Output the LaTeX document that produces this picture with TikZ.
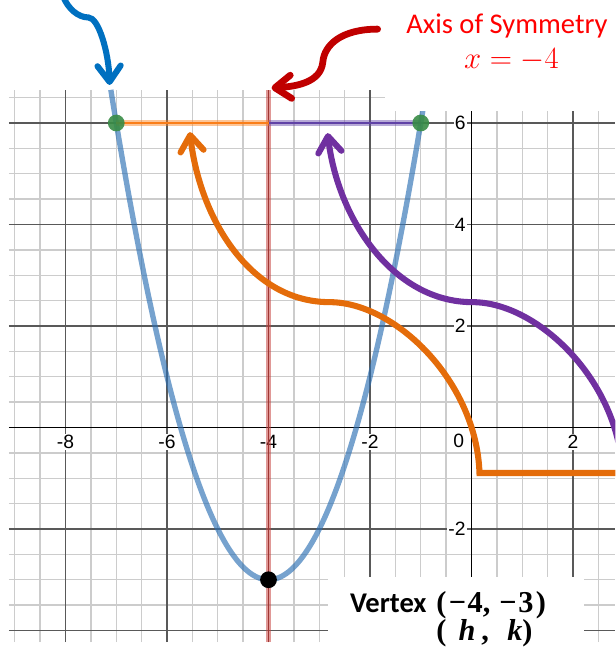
\documentclass[tikz,border=0pt]{standalone}
\usepackage{amsmath}
\usepackage{fontspec}
\setmainfont{Carlito}
\newfontfamily\gridfont{Liberation Sans}
\newfontfamily\pairfont{Liberation Serif}
\usetikzlibrary{arrows.meta, positioning}
\definecolor{curveblue}{HTML}{2D70B3}
\definecolor{symred}{HTML}{C74440}
\definecolor{segorange}{HTML}{FA7E19}
\definecolor{segpurple}{HTML}{6042A6}
\definecolor{ptgreen}{HTML}{388C46}
\definecolor{noteblue}{HTML}{0070C0}
\definecolor{notered}{HTML}{C00000}
\definecolor{noteorange}{HTML}{E46C0A}
\definecolor{notepurple}{HTML}{7030A0}
\definecolor{titlered}{HTML}{FF0000}

\begin{document}
\begin{tikzpicture}[
    minor/.style={black!20, line width=0.75pt},
    major/.style={black!65, line width=0.7pt},
    axisline/.style={black, line width=0.9pt},
    ticklbl/.style={font=\gridfont\fontsize{10.8}{12}\selectfont, fill=white, inner sep=0.6pt},
    ptdot/.style={circle, inner sep=0pt, minimum size=0.33cm},
    callout/.style={line width=3.4pt, line cap=round,
      -{Straight Barb[length=9pt, width=13pt, round]}},
    bigtext/.style={font=\fontsize{16}{19}\selectfont, inner sep=0pt},
    pairtext/.style={font=\pairfont\bfseries\fontsize{17}{20}\selectfont, inner sep=0pt}
  ]
  \useasboundingbox (-9.291,-4.463) rectangle (2.835,8.424);
  \clip (-9.291,-4.463) rectangle (2.835,8.424);

  \foreach \gx in {-9,-8.5,...,2.5}
    \draw[minor] (\gx,-4.227) -- (\gx,6.65);
  \foreach \gy in {-4,-3.5,...,6.5}
    \draw[minor] (-9.114,\gy) -- (2.835,\gy);
  \foreach \gx in {-8,-6,-4,-2,2}
    \draw[major] (\gx,-4.227) -- (\gx,6.65);
  \foreach \gy in {-4,-2,2,4,6}
    \draw[major] (-9.114,\gy) -- (2.835,\gy);
  \draw[axisline] (-9.114,0) -- (2.835,0);
  \draw[axisline] (0,-4.227) -- (0,6.65);

  \foreach \v in {-8,-6,-4,-2,2}
    \node[ticklbl] (xt\v) at (\v,-0.29) {\v};
  \node[ticklbl, anchor=east] (origin) at (-0.12,-0.27) {0};
  \foreach \v in {-2,2,4,6}
    \node[ticklbl, anchor=east] (yt\v) at (-0.09,\v) {\v};

  \draw[symred, line width=3.3pt, opacity=0.55] (-4,-4.227) -- (-4,6.65);
  \draw[symred!80!black, line width=0.9pt] (-4,-4.227) -- (-4,6.65);
  \draw[curveblue, opacity=0.65, line width=3pt, domain=-7.107:-0.958,
        samples=120, smooth] plot (\x, {(\x+4)^2-3});

  \draw[segorange, line width=3.6pt, opacity=0.45] (-7,6) -- (-4,6);
  \draw[segorange, line width=1pt] (-7,6) -- (-4,6);
  \draw[segpurple, line width=3.6pt, opacity=0.45] (-4,6) -- (-1,6);
  \draw[segpurple, line width=1pt] (-4,6) -- (-1,6);
  \node[ptdot, fill=ptgreen, opacity=0.9] (leftPt) at (-7,6) {};
  \node[ptdot, fill=ptgreen, opacity=0.9] (rightPt) at (-1,6) {};
  \node[ptdot, fill=black] (vertexPt) at (-4,-3) {};

  \fill[white] (-1.713,6.236) rectangle (2.9,8.5);
  \fill[white] (-2.835,-2.94) rectangle (2.224,-4.5);

  \node[bigtext, titlered, anchor=base] (axisTitle) at (0.70,7.773) {Axis of Symmetry};
  \node[bigtext, titlered, anchor=base] (axisEq) at (0.787,7.08) {$x=-4$};
  \node[bigtext, anchor=base west] (vertexWord) at (-2.40,-3.655) {\bfseries Vertex};
  \node[pairtext, anchor=base west] (vertexNum) at (-0.70,-3.655)
    {(\kern0.08em−\kern0.05em4,\hspace{0.3em}−\kern0.05em3\kern0.08em)};
  \node[pairtext, anchor=base west] (vertexHK) at (-0.70,-4.2)
    {(\hspace{0.4em}\textit{h}\hspace{0.2em},\hspace{0.6em}\textit{k})};

  \coordinate (blueTail) at (-8.05,8.5);
  \coordinate (blueTip) at (-7.13,6.75);
  \draw[callout, noteblue] (blueTail) .. controls (-7.95,8.25) and (-7.75,8.08) .. (-7.55,8.08)
    .. controls (-7.35,8.08) and (-7.15,7.4) .. (blueTip);
  \coordinate (redTail) at (-1.85,7.85);
  \coordinate (redTip) at (-3.94,6.69);
  \draw[callout, notered, line width=3.8pt] (redTail) .. controls (-2.55,7.85) and (-2.9,7.55) .. (-2.93,7.2)
    .. controls (-2.97,6.8) and (-3.45,6.72) .. (redTip);
  \coordinate (orangeTail) at (2.95,-0.897);
  \coordinate (orangeTip) at (-5.55,5.82);
  \draw[callout, noteorange] (orangeTail) -- (0.157,-0.897)
    .. controls (0.1,0.9) and (-1.5,2.47) .. (-2.795,2.47)
    .. controls (-4.35,2.47) and (-5.35,4.1) .. (orangeTip);
  \coordinate (purpleTail) at (2.972,-0.897);
  \coordinate (purpleTip) at (-2.835,5.80);
  \draw[callout, notepurple] (purpleTail) .. controls (2.915,0.9) and (1.315,2.47) .. (0.02,2.47)
    .. controls (-1.535,2.47) and (-2.635,4.1) .. (purpleTip);
\end{tikzpicture}
\end{document}
